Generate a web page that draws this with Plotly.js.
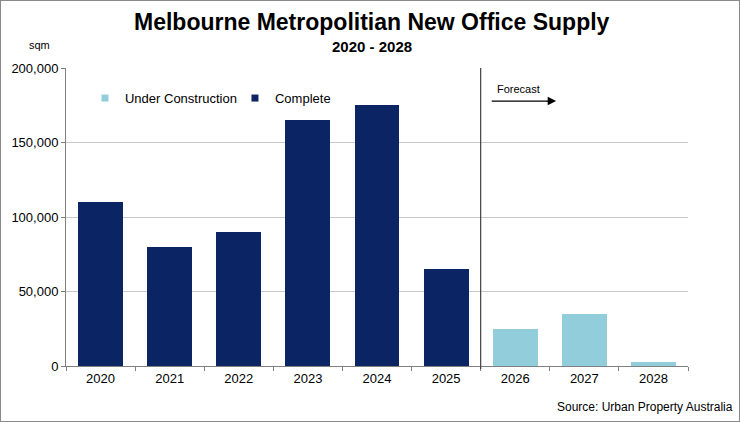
<!DOCTYPE html>
<html>
<head>
<meta charset="utf-8">
<script src="https://cdn.plot.ly/plotly-3.0.1.min.js"></script>
<style>
html,body{margin:0;padding:0;background:#fff;}
#chart{width:740px;height:422px;box-sizing:border-box;border:1px solid #8a8a8a;}
</style>
</head>
<body>
<div id="chart"></div>
<script>
const years = ['2020','2021','2022','2023','2024','2025','2026','2027','2028'];
const completeYears = ['2020','2021','2022','2023','2024','2025'];
const completeValues = [110000, 80000, 90000, 165000, 175000, 65000];
const constructionYears = ['2026','2027','2028'];
const constructionValues = [25000, 35000, 3000];
const yTicks = [0, 50000, 100000, 150000, 200000];
const yTickLabels = ['0','50,000','100,000','150,000','200,000'];
const seriesNames = ['Under Construction', 'Complete'];
const seriesColors = ['#92cddc', '#0b2463'];

const FONT = 'Liberation Sans, Arial, sans-serif';

const traces = [
  {type:'bar', name:seriesNames[0], x:constructionYears, y:constructionValues,
   marker:{color:seriesColors[0]}, hoverinfo:'skip', showlegend:false},
  {type:'bar', name:seriesNames[1], x:completeYears, y:completeValues,
   marker:{color:seriesColors[1]}, hoverinfo:'skip', showlegend:false},
  // legend-only entries with small square swatches
  {type:'scatter', mode:'markers', name:seriesNames[0], x:[null], y:[null],
   marker:{symbol:'square', size:7, color:seriesColors[0]}, hoverinfo:'skip'},
  {type:'scatter', mode:'markers', name:seriesNames[1], x:[null], y:[null],
   marker:{symbol:'square', size:7, color:seriesColors[1]}, hoverinfo:'skip'}
];

const layout = {
  width:738, height:420,
  margin:{l:65, r:51, t:67, b:55},
  paper_bgcolor:'#ffffff', plot_bgcolor:'#ffffff',
  font:{family:FONT, size:13, color:'#000'},
  barmode:'stack', bargap:0.35,
  showlegend:true,
  legend:{orientation:'h', x:0.0305, y:0.899, xanchor:'left', yanchor:'middle',
          font:{family:FONT, size:13, color:'#000'}, traceorder:'normal',
          entrywidth:105, entrywidthmode:'pixels',
          itemwidth:30, tracegroupgap:0, bgcolor:'rgba(0,0,0,0)'},
  xaxis:{type:'category', categoryorder:'array', categoryarray:years,
         showline:true, linecolor:'#808080', linewidth:1,
         ticks:'outside', tickson:'boundaries', ticklen:4, tickcolor:'#808080',
         showgrid:false, tickfont:{family:FONT, size:13, color:'#000'}, fixedrange:true},
  yaxis:{range:[0,200000], tickvals:yTicks, ticktext:yTickLabels,
         showline:true, linecolor:'#808080', linewidth:1,
         ticks:'outside', ticklen:4, tickcolor:'#808080',
         showgrid:true, gridcolor:'#c8c8c8', gridwidth:1, zeroline:false,
         tickfont:{family:FONT, size:13, color:'#000'}, fixedrange:true},
  shapes:[
    {type:'line', xref:'x', yref:'paper', x0:5.5, x1:5.5, y0:-0.01, y1:1,
     line:{color:'#404040', width:1.2}}
  ],
  annotations:[
    {text:'<b>Melbourne Metropolitian New Office Supply</b>', xref:'paper', yref:'paper',
     x:0.492, y:1.154, xanchor:'center', yanchor:'middle', showarrow:false,
     font:{family:FONT, size:23, color:'#000'}},
    {text:'<b>2020 - 2028</b>', xref:'paper', yref:'paper',
     x:0.492, y:1.0705, xanchor:'center', yanchor:'middle', showarrow:false,
     font:{family:FONT, size:15, color:'#000'}},
    {text:'sqm', xref:'paper', yref:'paper', x:-0.042, y:1.078, xanchor:'center', yanchor:'middle',
     showarrow:false, font:{family:FONT, size:11, color:'#000'}},
    {text:'Forecast', xref:'paper', yref:'paper', x:0.728, y:0.93, xanchor:'center', yanchor:'middle',
     showarrow:false, font:{family:FONT, size:11, color:'#000'}},
    {text:'', xref:'paper', yref:'paper', x:0.788, y:0.889, axref:'paper', ayref:'paper',
     ax:0.682, ay:0.889, showarrow:true, arrowhead:2, arrowsize:1.3, arrowwidth:1.3, arrowcolor:'#000'},
    {text:'Source: Urban Property Australia', xref:'paper', yref:'paper', x:1.075, y:-0.138,
     xanchor:'right', yanchor:'middle', showarrow:false, font:{family:FONT, size:12, color:'#000'}}
  ]
};

Plotly.newPlot('chart', traces, layout, {displayModeBar:false, staticPlot:true});
</script>
</body>
</html>
